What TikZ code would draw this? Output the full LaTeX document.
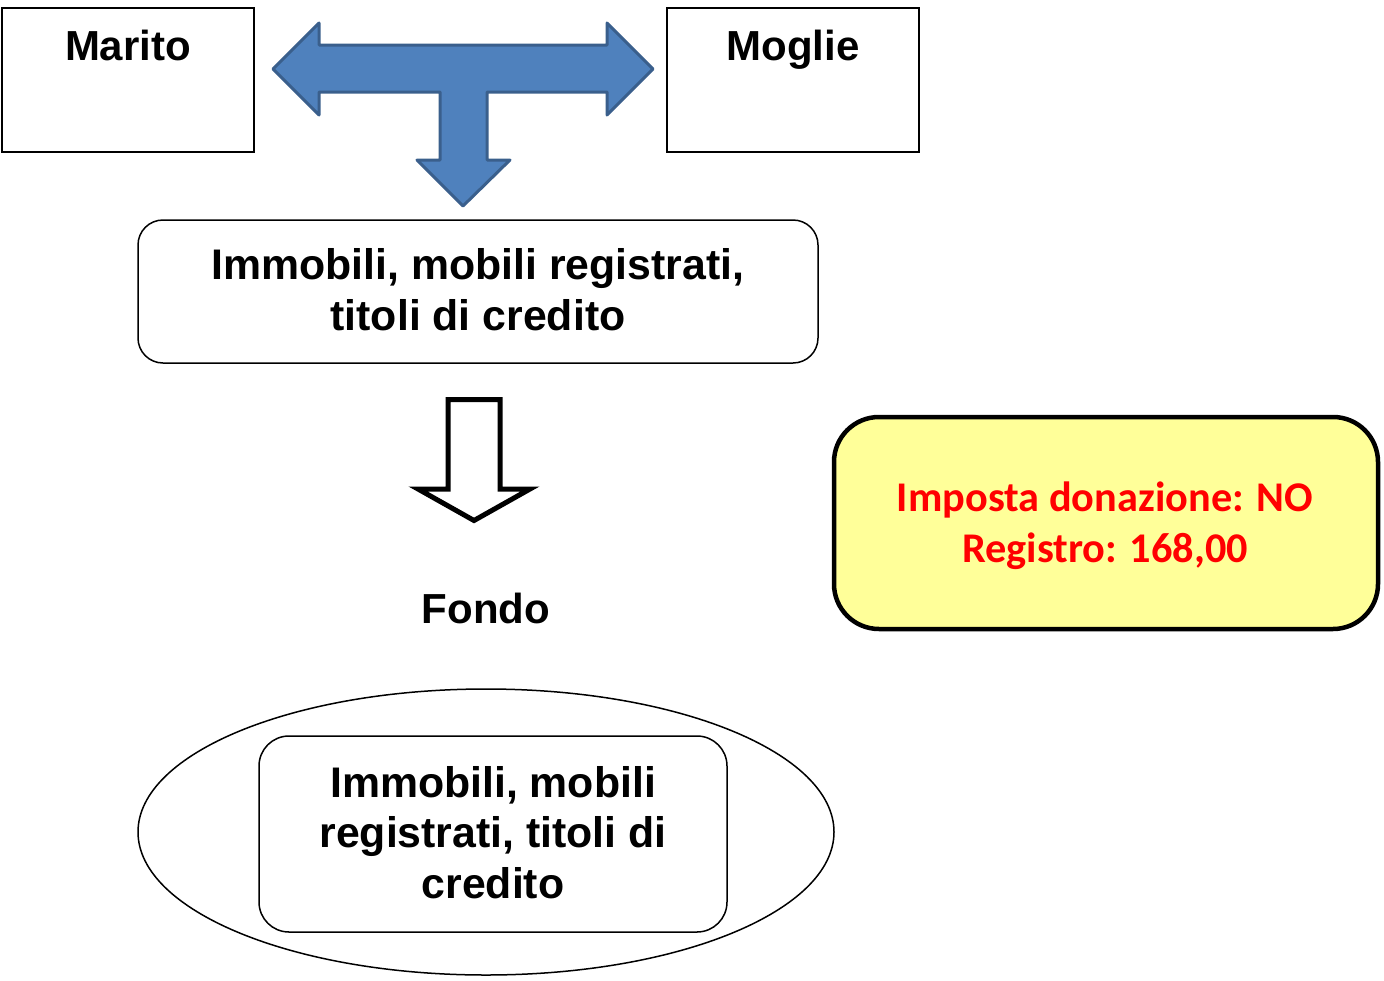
\documentclass[tikz,border=0pt]{standalone}
\usepackage{fontspec}
\setmainfont{Liberation Sans}
\newfontfamily\notefont{Carlito}
\usetikzlibrary{shapes.geometric}
\definecolor{arrowfill}{HTML}{4F81BD}
\definecolor{arrowline}{HTML}{3A5F8C}
\definecolor{notefill}{HTML}{FFFF99}
\definecolor{notetext}{HTML}{FF0000}
\begin{document}
\begin{tikzpicture}[x=1pt,y=-1pt,
  bigtext/.style={font=\fontsize{42}{50}\selectfont\bfseries, align=center, inner sep=0pt},
  boxtext/.style={font=\fontsize{42.8}{50.5}\selectfont\bfseries, align=center, inner sep=0pt},
  plainbox/.style={draw, line width=1.5pt, inner sep=0pt},
  roundbox/.style={draw, line width=1.5pt, inner sep=0pt},
  blockarrow/.style={fill=arrowfill, draw=arrowline, line width=3pt, line join=round},
  hollowarrow/.style={fill=white, draw=black, line width=5pt, line join=miter},
  notebox/.style={draw, fill=notefill, line width=4.5pt, rounded corners=45pt, inner sep=0pt}
]
\useasboundingbox (0,0) rectangle (1384,980);

% the two spouses
\node[plainbox, minimum width=252pt, minimum height=144pt] (marito) at (128,80) {};
\node[bigtext, anchor=base] (maritolbl) at (128,60) {Marito};
\node[plainbox, minimum width=252pt, minimum height=144pt] (moglie) at (793,80) {};
\node[bigtext, anchor=base] (moglielbl) at (793,60) {Moglie};

% three-way block arrow between the spouses and the assets
\draw[blockarrow] (273,69) -- (319,23) -- (319,45) -- (607,45) -- (607,23) -- (653,69)
  -- (607,115) -- (607,92) -- (487,92) -- (487,160) -- (510,160) -- (463,206)
  -- (417,160) -- (440,160) -- (440,92) -- (319,92) -- (319,115) -- cycle;

% assets brought in
\node[roundbox, rounded corners=25pt, minimum width=680pt, minimum height=143pt] (beni) at (478,291.5) {};
\node[boxtext] (benilbl) at (478,289.5) {Immobili, mobili registrati,\\titoli di credito};

% hollow arrow down to the fund
\draw[hollowarrow] (448,399.5) -- (500,399.5) -- (500,489) -- (530,489) -- (474,520.5)
  -- (418,489) -- (448,489) -- cycle;

\node[bigtext] (fondo) at (486,608) {Fondo};

% the fund with its assets
\node[draw, ellipse, line width=1.5pt, minimum width=696pt, minimum height=286pt, inner sep=0pt] (fondoell) at (486,832) {};
\node[roundbox, rounded corners=30pt, minimum width=468pt, minimum height=196pt] (fondobeni) at (493,834) {};
\node[boxtext] (fondobenilbl) at (493,832.5) {Immobili, mobili\\registrati, titoli di\\credito};

% tax note
\node[notebox, minimum width=544pt, minimum height=212pt] (nota) at (1106,523) {};
\node[align=center, inner sep=0pt, text=notetext, font=\notefont\fontsize{42.3}{51}\selectfont\bfseries] (notalbl) at (1105,526) {Imposta donazione: NO\\Registro: 168,00};
\end{tikzpicture}
\end{document}
